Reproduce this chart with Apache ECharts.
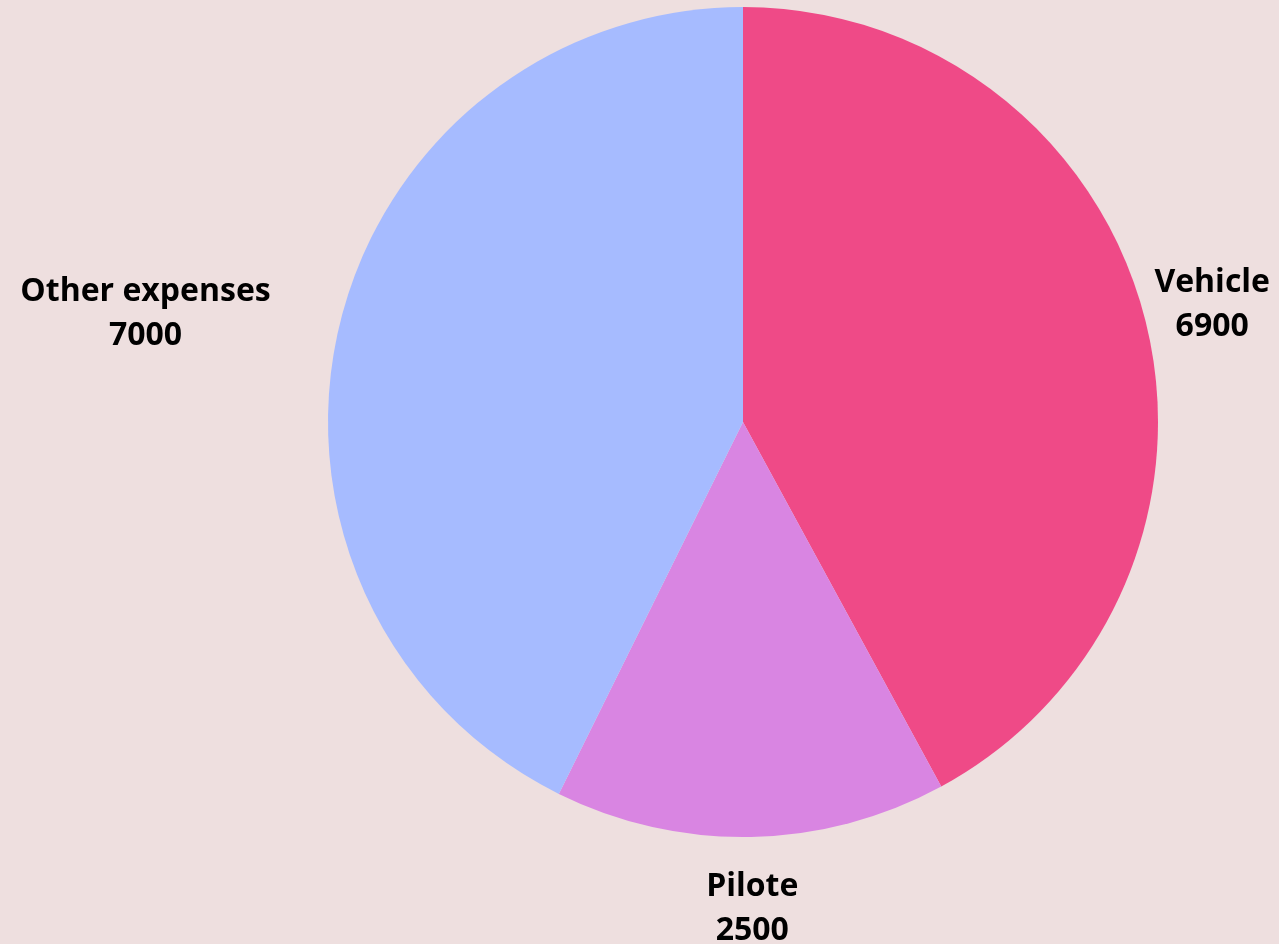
<!DOCTYPE html>
<html>
<head>
<meta charset="utf-8">
<script src="https://cdn.jsdelivr.net/npm/echarts@6/dist/echarts.min.js"></script>
<style>
html,body{margin:0;padding:0;background:#EEDFDF;}
#c{width:1279px;height:944px;}
</style>
</head>
<body>
<div id="c"></div>
<script>
var categories = ['Vehicle', 'Pilote', 'Other expenses'];
var values = [6900, 2500, 7000];
var colors = ['#EF4A87', '#D985E2', '#A6BBFF'];

var CENTER = [743, 422];
var RADIUS = 415;
var LABEL_GAP = 70;
var EDGE = 9;

var chart = echarts.init(document.getElementById('c'), null, {renderer: 'canvas'});
var total = values.reduce(function (a, b) { return a + b; }, 0);

function midAngle(i) {
  var acc = 0;
  for (var k = 0; k < i; k++) acc += values[k];
  return (acc + values[i] / 2) / total * Math.PI * 2;
}

var data = categories.map(function (n, i) {
  return {name: n, value: values[i], itemStyle: {color: colors[i]}};
});

chart.setOption({
  backgroundColor: '#EEDFDF',
  animation: false,
  series: [{
    type: 'pie',
    center: CENTER,
    radius: RADIUS,
    startAngle: 90,
    clockwise: true,
    data: data,
    itemStyle: {borderWidth: 0},
    labelLine: {show: false, length: LABEL_GAP, length2: 0},
    label: {
      show: true,
      position: 'outside',
      formatter: '{b}\n{c}',
      fontFamily: 'Open Sans',
      fontWeight: 'bold',
      fontSize: 32,
      lineHeight: 44,
      color: '#000',
      align: 'center',
      overflow: 'none'
    },
    labelLayout: function (p) {
      var a = midAngle(p.dataIndex);
      var dx = Math.sin(a), dy = -Math.cos(a);
      var d = RADIUS + LABEL_GAP;
      var ax = CENTER[0] + dx * d, ay = CENTER[1] + dy * d + 2;
      var w = p.labelRect.width;
      var cx;
      if (Math.abs(dx) < 0.3) cx = ax;
      else if (dx > 0) cx = ax + w / 2;
      else cx = ax - w / 2;
      var W = chart.getWidth();
      if (cx + w / 2 > W - EDGE) cx = W - EDGE - w / 2;
      if (cx - w / 2 < EDGE) cx = EDGE + w / 2;
      return {x: cx, y: ay, align: 'center', verticalAlign: 'middle'};
    }
  }]
});
</script>
</body>
</html>
